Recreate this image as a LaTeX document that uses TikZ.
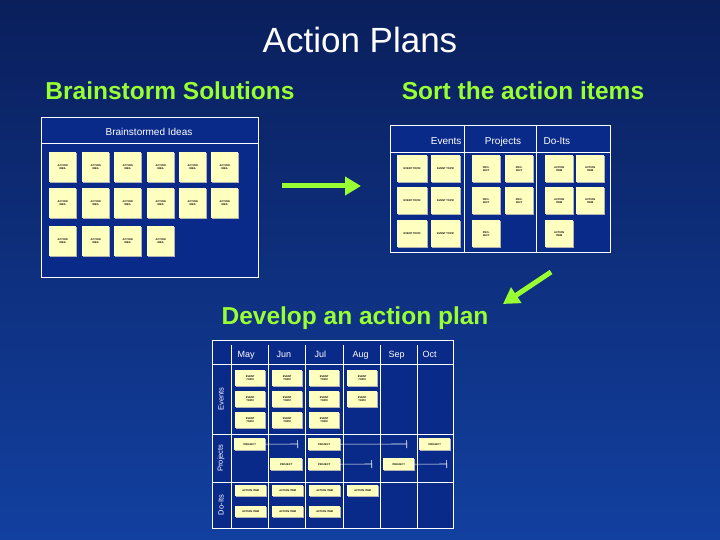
\documentclass[tikz,border=0pt]{standalone}
\usepackage{fontspec}
\setmainfont{Liberation Sans}
\usetikzlibrary{arrows.meta,shadows}
\definecolor{bgtop}{HTML}{0A1F5C}
\definecolor{bgbot}{HTML}{1240A0}
\definecolor{lime}{HTML}{99FF33}
\definecolor{sticky}{HTML}{FFFFC0}
\definecolor{panel}{HTML}{0A2A8A}
\begin{document}
\begin{tikzpicture}[x=1pt,y=-1pt,
  sticky/.style={fill=sticky,draw=none,inner sep=0pt,anchor=north west,align=center,
    font=\fontsize{2.6}{3}\selectfont\bfseries,text=black,
    drop shadow={shadow xshift=1pt,shadow yshift=-1pt,fill=gray!60,opacity=1}},
  pbox/.style={draw=white,line width=1pt,fill=panel},
  sep/.style={draw=white,line width=0.8pt},
  head/.style={text=lime,font=\fontsize{24.5}{28}\selectfont\bfseries},
  lbl/.style={text=white,font=\fontsize{10}{12}\selectfont},
  garrow/.style={draw=lime,line width=5pt,-{Triangle[length=16pt,width=18pt]}},
  bar/.style={draw=white,line width=0.6pt,-{Bar[width=8pt]}}]
\useasboundingbox (0,0) rectangle (720,540);
\shade[top color=bgtop,bottom color=bgbot] (0,0) rectangle (720,540);
\node[text=white,font=\fontsize{35}{40}\selectfont] (title) at (360,40) {Action Plans};
\node[head] (h1) at (170,91) {Brainstorm Solutions};
\node[head] (h2) at (523,91) {Sort the action items};
% left panel
\draw[pbox] (41,118) rectangle (258,277);
\draw[sep] (41,143) -- (258,143);
\node[lbl] (bi) at (149,132) {Brainstormed Ideas};
\foreach \r/\y/\n in {1/152/6,2/188/6,3/226/4}{
  \foreach \c/\x in {1/49,2/82,3/114,4/147,5/179,6/211}{
    \ifnum\c>\n\else
    \node[sticky,minimum width=27pt,minimum height=30pt] (a\r\c) at (\x,\y) {ACTION\\IDEA};
    \fi}}
\coordinate (ar1) at (282,186); \coordinate (ar2) at (361,186);
\draw[garrow] (ar1) -- (ar2);
% right panel
\draw[pbox] (390,126) rectangle (610,252);
\draw[sep] (390,152) -- (610,152);
\draw[sep] (464,126) -- (464,252);
\draw[sep] (536,126) -- (536,252);
\node[lbl,anchor=base east] (ev) at (465,145) {Events};
\node[lbl,anchor=base] (pr) at (503,145) {Projects};
\node[lbl,anchor=base west] (di) at (540,145) {Do-Its};
\foreach \r/\y in {1/155,2/187,3/220}{
  \node[sticky,minimum width=30pt,minimum height=27pt] (e\r a) at (397,\y) {EVENT TOPIC};
  \node[sticky,minimum width=29pt,minimum height=27pt] (e\r b) at (431,\y) {EVENT TOPIC};}
\foreach \r/\y/\n in {1/155/2,2/187/2,3/220/1}{
  \node[sticky,minimum width=28pt,minimum height=27pt] (p\r a) at (472,\y) {PRO-\\JECT};
  \node[sticky,minimum width=28pt,minimum height=27pt] (d\r a) at (545,\y) {ACTION\\ITEM};
  \ifnum\n=2
  \node[sticky,minimum width=28pt,minimum height=27pt] (p\r b) at (505,\y) {PRO-\\JECT};
  \node[sticky,minimum width=28pt,minimum height=27pt] (d\r b) at (576,\y) {ACTION\\ITEM};
  \fi}
\coordinate (dg1) at (551,272); \coordinate (dg2) at (503,304);
\draw[garrow] (dg1) -- (dg2);
\node[head] (h3) at (355,318) {Develop an action plan};
% bottom panel
\draw[pbox] (212,340) rectangle (453,528);
\draw[sep] (212,364) -- (453,364);
\draw[sep] (212,434) -- (453,434);
\draw[sep] (212,482) -- (453,482);
\foreach \x in {231,268,305,343,380,417}{\draw[sep] (\x,345) -- (\x,528);}
\foreach \m/\x in {May/234,Jun/273,Jul/311,Aug/349,Sep/385,Oct/419}{
  \node[lbl,anchor=base west,font=\fontsize{9}{11}\selectfont] (m\m) at (\x,357) {\m};}
\node[lbl,rotate=90,font=\fontsize{7.5}{9}\selectfont] (le) at (221,399) {Events};
\node[lbl,rotate=90,font=\fontsize{7.5}{9}\selectfont] (lp) at (221,458) {Projects};
\node[lbl,rotate=90,font=\fontsize{7.5}{9}\selectfont] (ld) at (221,505) {Do-Its};
\foreach \c/\x/\n in {1/235/3,2/272/3,3/309/3,4/347/2}{
  \foreach \r/\y in {1/370,2/391,3/412}{
    \ifnum\r>\n\else
    \node[sticky,minimum width=30pt,minimum height=16pt] (t\c\r) at (\x,\y) {EVENT\\TOPIC};
    \fi}}
\node[sticky,minimum width=31pt,minimum height=12pt] (pj1) at (234,438) {PROJECT};
\node[sticky,minimum width=32pt,minimum height=12pt] (pj2) at (308,438) {PROJECT};
\node[sticky,minimum width=31pt,minimum height=12pt] (pj3) at (419,438) {PROJECT};
\node[sticky,minimum width=32pt,minimum height=12pt] (pj4) at (270,458) {PROJECT};
\node[sticky,minimum width=32pt,minimum height=12pt] (pj5) at (308,458) {PROJECT};
\node[sticky,minimum width=31pt,minimum height=12pt] (pj6) at (383,458) {PROJECT};
\coordinate (b1) at (298,444); \coordinate (b2) at (407,444);
\coordinate (b3) at (372,464); \coordinate (b4) at (447,464);
\draw[bar] (pj1.east) -- (b1);
\draw[bar] (pj2.east) -- (b2);
\draw[bar] (pj5.east) -- (b3);
\draw[bar] (pj6.east) -- (b4);
\foreach \c/\x/\n in {1/235/2,2/272/2,3/309/2,4/347/1}{
  \foreach \r/\y in {1/485,2/506}{
    \ifnum\r>\n\else
    \node[sticky,minimum width=31pt,minimum height=11pt] (ai\c\r) at (\x,\y) {ACTION ITEM};
    \fi}}
\end{tikzpicture}
\end{document}
